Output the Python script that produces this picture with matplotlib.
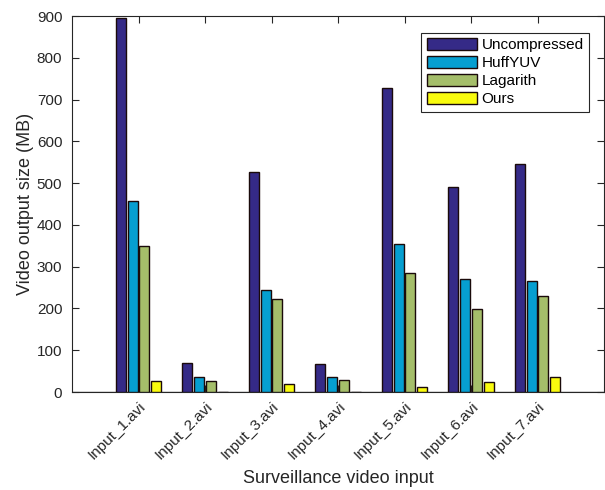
from matplotlib import pyplot as plt
import numpy as np

plt.rcParams['font.family'] = ['Liberation Sans', 'DejaVu Sans']

videos = ['Input_1.avi', 'Input_2.avi', 'Input_3.avi', 'Input_4.avi',
          'Input_5.avi', 'Input_6.avi', 'Input_7.avi']
uncompressed = [895, 70, 527, 67, 727, 491, 546]
huffyuv = [458, 37, 245, 35, 355, 270, 266]
lagarith = [349, 27, 223, 29, 284, 198, 230]
ours = [27, 1, 20, 1, 13, 25, 37]

methods = ['Uncompressed', 'HuffYUV', 'Lagarith', 'Ours']
colors = ['#352a87', '#069fd1', '#a5be6a', '#f9fb0e']
series = [uncompressed, huffyuv, lagarith, ours]

fig = plt.figure(figsize=(6.05, 4.9), dpi=100)
ax = fig.add_axes([72 / 605, 98 / 490, 532 / 605, 376 / 490])

x = np.arange(1, len(videos) + 1)
step = 0.18
for i, (vals, c, name) in enumerate(zip(series, colors, methods)):
    ax.bar(x + (i - 1.5) * step, vals, width=0.15, color=c, edgecolor='#1a0a0a',
           linewidth=1.0, label=name, zorder=3)

ax.axhline(0, color='#555555', linewidth=1.0, zorder=2)
ax.set_xlim(0, 8)
ax.set_ylim(0, 900)
ax.set_yticks(np.arange(0, 901, 100))
ax.set_xticks(x)
ax.set_xticklabels(videos, rotation=45, ha='right', rotation_mode='anchor')
ax.tick_params(direction='in', top=True, right=True, length=5, width=0.8,
               labelsize=11, colors='#262626')
ax.tick_params(axis='y', pad=7)
ax.tick_params(axis='x', pad=5)
for s in ax.spines.values():
    s.set_color('#262626')
    s.set_linewidth(0.8)

ax.set_xlabel('Surveillance video input', fontsize=13, color='#262626', labelpad=6)
ax.set_ylabel('Video output size (MB)', fontsize=13, color='#262626', labelpad=2)

leg = ax.legend(loc='upper right', bbox_to_anchor=(0.972, 0.955), fontsize=11,
                fancybox=False, edgecolor='#262626', framealpha=1,
                handlelength=3.3, handleheight=0.8, handletextpad=0.3,
                labelspacing=0.25, borderpad=0.35, borderaxespad=0)
leg.get_frame().set_linewidth(0.8)

fig.savefig('out.png', dpi=100)
